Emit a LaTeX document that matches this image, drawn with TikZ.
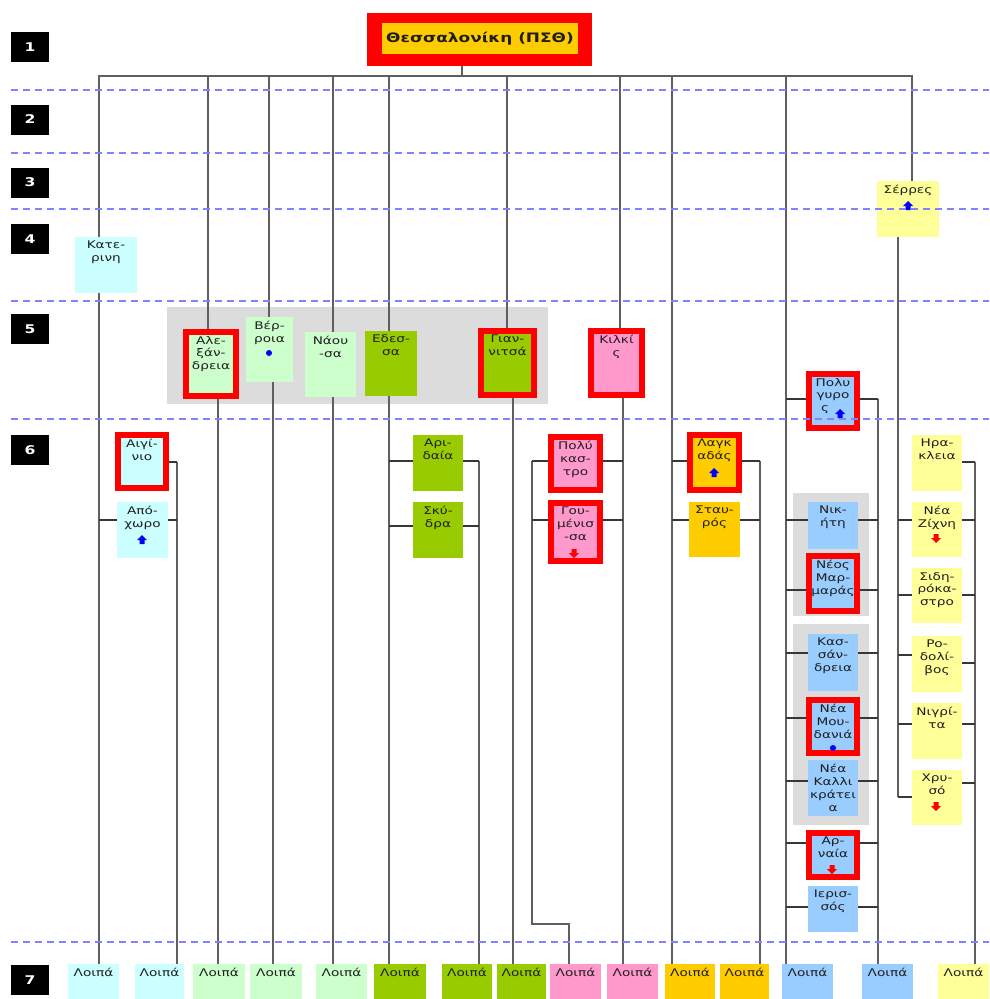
\documentclass[tikz,border=0pt]{standalone}
\usepackage{fontspec}
\newfontfamily\dv[FakeStretch=1.3]{DejaVu Sans}
\usetikzlibrary{calc}
\pgfdeclarelayer{back}\pgfdeclarelayer{bg}\pgfdeclarelayer{fg}
\pgfsetlayers{back,bg,main,fg}
\definecolor{cCy}{HTML}{CCFFFF}
\definecolor{cLg}{HTML}{CCFFCC}
\definecolor{cGr}{HTML}{99CC00}
\definecolor{cPk}{HTML}{FF99CC}
\definecolor{cOr}{HTML}{FFCC00}
\definecolor{cLb}{HTML}{99CCFF}
\definecolor{cYe}{HTML}{FFFF99}
\definecolor{cGy}{HTML}{DCDCDC}
\definecolor{cTxt}{RGB}{30,30,30}
\definecolor{cTrunk}{RGB}{95,95,95}
\definecolor{cBr}{RGB}{55,55,55}
\definecolor{cDash}{RGB}{130,130,255}
\newcommand\lblf{\dv\fontsize{10.5}{12.8}\selectfont}
\tikzset{
 bxs/.style={rectangle,inner sep=0pt,outer sep=0pt,draw=none},
 lbl/.style={inner sep=0pt,anchor=north,align=center,font=\lblf,text=cTxt},
 trunk/.style={draw=cTrunk,line width=2pt},
 branch/.style={draw=cBr,line width=1.3pt},
 dashl/.style={draw=cDash,line width=1.6pt,dash pattern=on 7pt off 5pt},
 lvl/.style={rectangle,fill=black,minimum width=38pt,minimum height=30pt,inner sep=0pt,text=white,font=\dv\bfseries\fontsize{12}{13}\selectfont},
}
\newcommand\mkbox[7]{%
 \node[bxs,fill=#6,minimum width={#4-#2},minimum height={#5-#3}] (#1) at ({(#2+#4)/2},{(#3+#5)/2}) {};
 \node[lbl] (#1-t) at ({(#2+#4)/2},{#3+4}) {#7};}
\newcommand\mkrbox[7]{%
 \node[bxs,fill=#6,draw=red,line width=6pt,minimum width={#4-#2-6},minimum height={#5-#3-6}] (#1) at ({(#2+#4)/2},{(#3+#5)/2}) {};
 \node[lbl] (#1-t) at ({(#2+#4)/2},{#3+7}) {#7};}
\newcommand\mkports[3]{%
 \coordinate (#1-w) at (#1.west |- 0,#2);
 \coordinate (#1-e) at (#1.east |- 0,#3);}
\newcommand\uparr[3]{\fill[#3] (#1-5,#2) -- (#1,#2-5) -- (#1+5,#2) -- (#1+2.5,#2) -- (#1+2.5,#2+4) -- (#1-2.5,#2+4) -- (#1-2.5,#2) -- cycle;}
\newcommand\dnarr[3]{\fill[#3] (#1-5,#2) -- (#1,#2+5) -- (#1+5,#2) -- (#1+2.5,#2) -- (#1+2.5,#2-4) -- (#1-2.5,#2-4) -- (#1-2.5,#2) -- cycle;}
\begin{document}
\begin{tikzpicture}[x=1pt,y=-1pt]
\useasboundingbox (0,0) rectangle (989,999);
\begin{pgfonlayer}{back}
\fill[white] (0,0) rectangle (989,999);
\fill[cGy] (167,307) rectangle (548,404);
\fill[cGy] (793,493) rectangle (869,616);
\fill[cGy] (793,624) rectangle (869,825);
\end{pgfonlayer}
% level markers
\node[lvl] (n1) at (30,47) {1};
\node[lvl] (n2) at (30,119.5) {2};
\node[lvl] (n3) at (30,182.5) {3};
\node[lvl] (n4) at (30,239) {4};
\node[lvl] (n5) at (30,329) {5};
\node[lvl] (n6) at (30,450) {6};
\node[lvl] (n7) at (30,980) {7};
% title
\node[bxs,fill=red,minimum width=225pt,minimum height=53pt] (top) at (479.5,39.5) {};
\node[bxs,fill=cOr,minimum width=196pt,minimum height=31pt,font=\dv\bfseries\fontsize{13}{15}\selectfont,text=cTxt] (topin) at (480,38.5) {Θεσσαλονίκη (ΠΣΘ)};
% boxes
\mkbox{Kat}{75}{237}{137}{293}{cCy}{Κατε-\\ρινη}
\mkrbox{Aig}{115}{432}{169}{491}{cCy}{Αιγί-\\νιο}
\mkbox{Apo}{117}{502}{168}{558}{cCy}{Από-\\χωρο}
\mkrbox{Ale}{183}{329}{239}{399}{cLg}{Αλε-\\ξάν-\\δρεια}
\mkbox{Ver}{246}{317}{293}{382}{cLg}{Βέρ-\\ροια}
\mkbox{Nao}{305}{332}{356}{397}{cLg}{Νάου\\-σα}
\mkbox{Ede}{365}{331}{417}{396}{cGr}{Εδεσ-\\σα}
\mkrbox{Gia}{478}{328}{537}{398}{cGr}{Γιαν-\\νιτσά}
\mkrbox{Kil}{588}{328}{645}{398}{cPk}{Κιλκί\\ς}
\mkbox{Ari}{413}{435}{463}{491}{cGr}{Αρι-\\δαία}
\mkbox{Sky}{413}{502}{463}{558}{cGr}{Σκύ-\\δρα}
\mkrbox{Pol}{548}{434}{603}{493}{cPk}{Πολύ\\κασ-\\τρο}
\mkrbox{Gou}{548}{500}{603}{564}{cPk}{Γου-\\μένισ\\-σα}
\mkrbox{Lag}{687}{432}{742}{493}{cOr}{Λαγκ\\αδάς}
\mkbox{Sta}{689}{502}{740}{557}{cOr}{Σταυ-\\ρός}
\mkrbox{Plg}{806}{371}{860}{431}{cLb}{Πολυ\\γυρο\\ς\hbox to 16pt{}}
\mkbox{Nik}{808}{502}{858}{549}{cLb}{Νικ-\\ήτη}
\mkrbox{Mar}{806}{553}{860}{614}{cLb}{Νέος\\Μαρ-\\μαράς}
\mkbox{Kas}{808}{634}{858}{691}{cLb}{Κασ-\\σάν-\\δρεια}
\mkrbox{Mou}{806}{697}{860}{756}{cLb}{Νέα\\Μου-\\δανιά}
\mkbox{Kal}{808}{760}{858}{816}{cLb}{Νέα\\Καλλι\\κράτει\\α}
\mkrbox{Arn}{806}{830}{860}{880}{cLb}{Αρ-\\ναία}
\mkbox{Ier}{808}{886}{858}{932}{cLb}{Ιερισ-\\σός}
\mkbox{Ser}{877}{181}{939}{237}{cYe}{Σέρρες}
\mkbox{Ira}{912}{435}{962}{491}{cYe}{Ηρα-\\κλεια}
\mkbox{Zix}{912}{502}{962}{557}{cYe}{Νέα\\Ζίχνη}
\mkbox{Sid}{912}{568}{962}{623}{cYe}{Σιδη-\\ρόκα-\\στρο}
\mkbox{Rod}{912}{636}{962}{692}{cYe}{Ρο-\\δολί-\\βος}
\mkbox{Nig}{912}{703}{962}{759}{cYe}{Νιγρί-\\τα}
\mkbox{Xry}{912}{770}{962}{825}{cYe}{Χρυ-\\σό}
% bottom boxes
\mkbox{L1}{68}{964}{119}{999}{cCy}{Λοιπά}
\mkbox{L2}{135}{964}{184}{999}{cCy}{Λοιπά}
\mkbox{L3}{193}{964}{245}{999}{cLg}{Λοιπά}
\mkbox{L4}{250}{964}{302}{999}{cLg}{Λοιπά}
\mkbox{L5}{316}{964}{367}{999}{cLg}{Λοιπά}
\mkbox{L6}{374}{964}{426}{999}{cGr}{Λοιπά}
\mkbox{L7}{442}{964}{492}{999}{cGr}{Λοιπά}
\mkbox{L8}{497}{964}{546}{999}{cGr}{Λοιπά}
\mkbox{L9}{550}{964}{601}{999}{cPk}{Λοιπά}
\mkbox{L10}{607}{964}{658}{999}{cPk}{Λοιπά}
\mkbox{L11}{665}{964}{715}{999}{cOr}{Λοιπά}
\mkbox{L12}{720}{964}{769}{999}{cOr}{Λοιπά}
\mkbox{L13}{782}{964}{833}{999}{cLb}{Λοιπά}
\mkbox{L14}{862}{964}{913}{999}{cLb}{Λοιπά}
\mkbox{L15}{938}{964}{989}{999}{cYe}{Λοιπά}
% markers
\fill[blue] (269,353) circle (3);
\uparr{142}{540}{blue}
\uparr{908}{206}{blue}
\dnarr{574}{553}{red}
\uparr{714}{473}{blue}
\uparr{840}{414}{blue}
\dnarr{936}{538}{red}
\fill[blue] (833,748) circle (3);
\dnarr{832}{869}{red}
\dnarr{936}{806}{red}
% ports
\mkports{Aig}{462}{462}
\mkports{Apo}{520}{520}
\mkports{Ari}{461}{461}
\mkports{Sky}{526}{526}
\mkports{Pol}{461}{461}
\mkports{Gou}{520}{520}
\mkports{Lag}{461}{461}
\mkports{Sta}{520}{520}
\mkports{Plg}{399}{399}
\mkports{Nik}{520}{520}
\mkports{Mar}{590}{590}
\mkports{Kas}{653}{653}
\mkports{Mou}{718}{718}
\mkports{Kal}{781}{781}
\mkports{Arn}{843}{843}
\mkports{Ier}{907}{907}
\mkports{Ira}{462}{462}
\mkports{Zix}{520}{520}
\mkports{Sid}{595}{595}
\mkports{Rod}{655}{663}
\mkports{Nig}{724}{724}
\mkports{Xry}{797}{783}
% trunk coordinates
\coordinate (stem) at (462,76);
\coordinate (T1) at (99,76);
\coordinate (T2) at (177,76);
\coordinate (T3) at (208,76);
\coordinate (T3b) at (218,76);
\coordinate (T4) at (269,76);
\coordinate (T4b) at (273,76);
\coordinate (T5) at (333,76);
\coordinate (T6) at (389,76);
\coordinate (T7) at (479,76);
\coordinate (T8) at (507,76);
\coordinate (T8b) at (513,76);
\coordinate (T9) at (620,76);
\coordinate (T9b) at (623,76);
\coordinate (T10) at (532,76);
\coordinate (T10k) at (532,924);
\coordinate (T10c) at (569,924);
\coordinate (T11) at (672,76);
\coordinate (T12) at (760,76);
\coordinate (T13) at (786,76);
\coordinate (T14) at (878,76);
\coordinate (T15) at (912,76);
\coordinate (T16) at (898,76);
\coordinate (T17) at (975,76);
\begin{pgfonlayer}{bg}
\draw[trunk] (stem |- top.south) -- (stem);
\draw[trunk] (T1 |- Kat.north) -- (T1) -- (T15) -- (T15 |- Ser.north);
\draw[trunk] (T1 |- Kat.south) -- (T1 |- L1.north);
\draw[trunk] (T3) -- (T3 |- Ale.north);
\draw[trunk] (T3b |- Ale.south) -- (T3b |- L3.north);
\draw[trunk] (T4) -- (T4 |- Ver.north);
\draw[trunk] (T4b |- Ver.south) -- (T4b |- L4.north);
\draw[trunk] (T5) -- (T5 |- L5.north);
\draw[trunk] (T6) -- (T6 |- L6.north);
\draw[trunk] (T8) -- (T8 |- Gia.north);
\draw[trunk] (T8b |- Gia.south) -- (T8b |- L8.north);
\draw[trunk] (T9) -- (T9 |- Kil.north);
\draw[trunk] (T9b |- Kil.south) -- (T9b |- L10.north);
\draw[trunk] (T11) -- (T11 |- L11.north);
\draw[trunk] (T13) -- (T13 |- L13.north);
\draw[trunk] (T2 |- Aig-e) -- (T2 |- L2.north);
\draw[trunk] (T7 |- Ari-e) -- (T7 |- L7.north);
\draw[trunk] (T10 |- Pol-w) -- (T10k) -- (T10c) -- (T10c |- L9.north);
\draw[trunk] (T12 |- Lag-e) -- (T12 |- L12.north);
\draw[trunk] (T14 |- Plg-e) -- (T14 |- L14.north);
\draw[trunk] (T16 |- Ser.south) -- (T16 |- Xry-w);
\draw[trunk] (T17 |- Ira-e) -- (T17 |- L15.north);
\draw[branch] (Aig-e) -- (Aig-e -| T2);
\draw[branch] (Apo-w) -- (Apo-w -| T1);
\draw[branch] (Apo-e) -- (Apo-e -| T2);
\foreach \b in {Ari,Sky}{
 \draw[branch] (\b-w) -- (\b-w -| T6);
 \draw[branch] (\b-e) -- (\b-e -| T7);}
\foreach \b in {Pol,Gou}{
 \draw[branch] (\b-w) -- (\b-w -| T10);
 \draw[branch] (\b-e) -- (\b-e -| T9b);}
\foreach \b in {Lag,Sta}{
 \draw[branch] (\b-w) -- (\b-w -| T11);
 \draw[branch] (\b-e) -- (\b-e -| T12);}
\foreach \b in {Plg,Nik,Mar,Kas,Mou,Kal,Arn,Ier}{
 \draw[branch] (\b-w) -- (\b-w -| T13);
 \draw[branch] (\b-e) -- (\b-e -| T14);}
\draw[branch] (Ira-e) -- (Ira-e -| T17);
\foreach \b in {Zix,Sid,Rod,Nig,Xry}{
 \draw[branch] (\b-w) -- (\b-w -| T16);
 \draw[branch] (\b-e) -- (\b-e -| T17);}
\end{pgfonlayer}
% level separators
\begin{pgfonlayer}{fg}
\foreach \yy in {90,153,209,301,419,942}
 \draw[dashl] (11,\yy) -- (989,\yy);
\end{pgfonlayer}
\end{tikzpicture}
\end{document}
